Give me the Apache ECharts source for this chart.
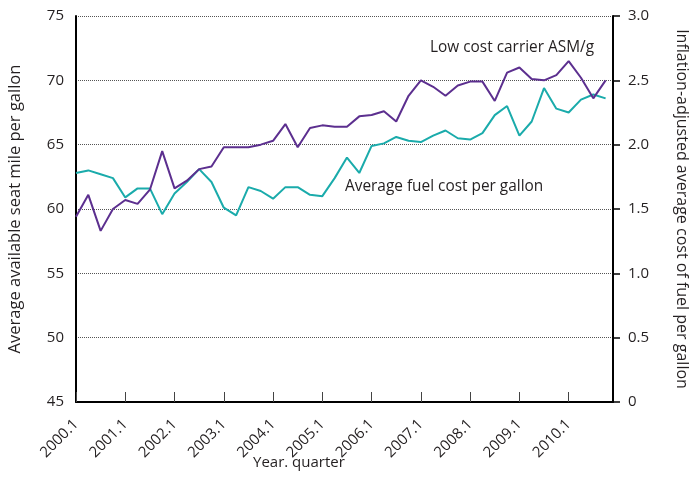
<!DOCTYPE html>
<html>
<head>
<meta charset="utf-8">
<script src="https://cdn.jsdelivr.net/npm/echarts@6/dist/echarts.min.js"></script>
<style>
  html, body { margin: 0; padding: 0; background: #fff; }
  #chart { width: 692px; height: 477px; }
</style>
</head>
<body>
<div id="chart"></div>
<script>
// x tick labels, one per year (first quarter)
const yearLabels = ['2000.1', '2001.1', '2002.1', '2003.1', '2004.1', '2005.1',
    '2006.1', '2007.1', '2008.1', '2009.1', '2010.1'];

// low cost carrier available seat miles per gallon, 2000.1 .. 2010.4
const asmPerGallon = [59.4, 61.1, 58.3, 60.0, 60.7, 60.4, 61.5, 64.5, 61.6, 62.2, 63.1, 63.3,
    64.8, 64.8, 64.8, 65.0, 65.3, 66.6, 64.8, 66.3, 66.5, 66.4, 66.4, 67.2,
    67.3, 67.6, 66.8, 68.8, 70.0, 69.5, 68.8, 69.6, 69.9, 69.9, 68.4, 70.6,
    71.0, 70.1, 70.0, 70.4, 71.5, 70.2, 68.6, 70.0];

// inflation-adjusted average fuel cost per gallon ($)
const fuelCost = [1.78, 1.80, 1.77, 1.74, 1.59, 1.66, 1.66, 1.46, 1.62, 1.71, 1.81, 1.71,
    1.51, 1.45, 1.67, 1.64, 1.58, 1.67, 1.67, 1.61, 1.60, 1.74, 1.90, 1.78,
    1.99, 2.01, 2.06, 2.03, 2.02, 2.07, 2.11, 2.05, 2.04, 2.09, 2.23, 2.30,
    2.07, 2.18, 2.44, 2.28, 2.25, 2.35, 2.39, 2.36];

const textColor = '#231f20';
const fontFamily = '"Open Sans", sans-serif';

let mychart = echarts.init(document.getElementById('chart'));

mychart.setOption({
    animation: false,
    textStyle: { fontFamily: fontFamily, color: textColor },
    grid: {
        left: 76,
        right: 79,
        top: 16,
        bottom: 75,
        outerBoundsMode: 'none',
        containLabel: false
    },
    xAxis: {
        type: 'value',
        min: 0,
        max: 43.6,
        interval: 4,
        axisLine: { show: true, lineStyle: { color: '#000', width: 2 } },
        axisTick: { show: true, inside: true, length: 10, lineStyle: { color: '#444', width: 1 } },
        splitLine: { show: false },
        axisLabel: {
            rotate: 45,
            fontSize: 15,
            color: textColor,
            margin: 20,
            showMaxLabel: false,
            formatter: function (v) {
                let i = Math.round(v);
                if (Math.abs(v - i) > 1e-6 || i % 4 !== 0) return '';
                return yearLabels[i / 4] || '';
            }
        }
    },
    yAxis: [
        {
            type: 'value',
            min: 45,
            max: 75,
            interval: 5,
            position: 'left',
            name: 'Average available seat mile per gallon',
            nameLocation: 'middle',
            nameGap: 52,
            nameTextStyle: { fontSize: 16.5, color: textColor },
            axisLine: { show: true, lineStyle: { color: '#000', width: 2 } },
            axisTick: { show: false },
            axisLabel: { fontSize: 15, color: textColor, margin: 12 },
            splitLine: { show: true, lineStyle: { color: '#555', type: [1, 1], width: 1 } }
        },
        {
            type: 'value',
            min: 0,
            max: 3,
            interval: 0.5,
            position: 'right',
            name: 'Inflation-adjusted average cost of fuel per gallon',
            nameLocation: 'middle',
            nameRotate: -90,
            nameGap: 61,
            nameTextStyle: { fontSize: 16, color: textColor },
            axisLine: { show: true, lineStyle: { color: '#000', width: 2 } },
            axisTick: { show: true, length: 7, lineStyle: { color: '#000', width: 1.5 } },
            axisLabel: {
                fontSize: 15,
                color: textColor,
                margin: 15,
                formatter: function (v) { return v === 0 ? '0' : v.toFixed(1); }
            },
            splitLine: { show: false }
        }
    ],
    graphic: [
        {
            type: 'text',
            left: 430,
            top: 40,
            style: { text: 'Low cost carrier ASM/g', fill: textColor, font: '15.4px ' + fontFamily }
        },
        {
            type: 'text',
            left: 345,
            top: 179,
            style: { text: 'Average fuel cost per gallon', fill: textColor, font: '15.4px ' + fontFamily }
        },
        {
            // x axis title
            type: 'text',
            left: 253,
            top: 455,
            style: { text: 'Year. quarter', fill: textColor, font: '15px ' + fontFamily }
        }
    ],
    series: [
        {
            name: 'Average fuel cost per gallon',
            type: 'line',
            yAxisIndex: 1,
            symbol: 'none',
            lineStyle: { color: '#1aabab', width: 2 },
            data: fuelCost.map((v, i) => [i, v])
        },
        {
            name: 'Low cost carrier ASM/g',
            type: 'line',
            yAxisIndex: 0,
            symbol: 'none',
            lineStyle: { color: '#5c2f8f', width: 2 },
            data: asmPerGallon.map((v, i) => [i, v])
        }
    ]
});
</script>
</body>
</html>
